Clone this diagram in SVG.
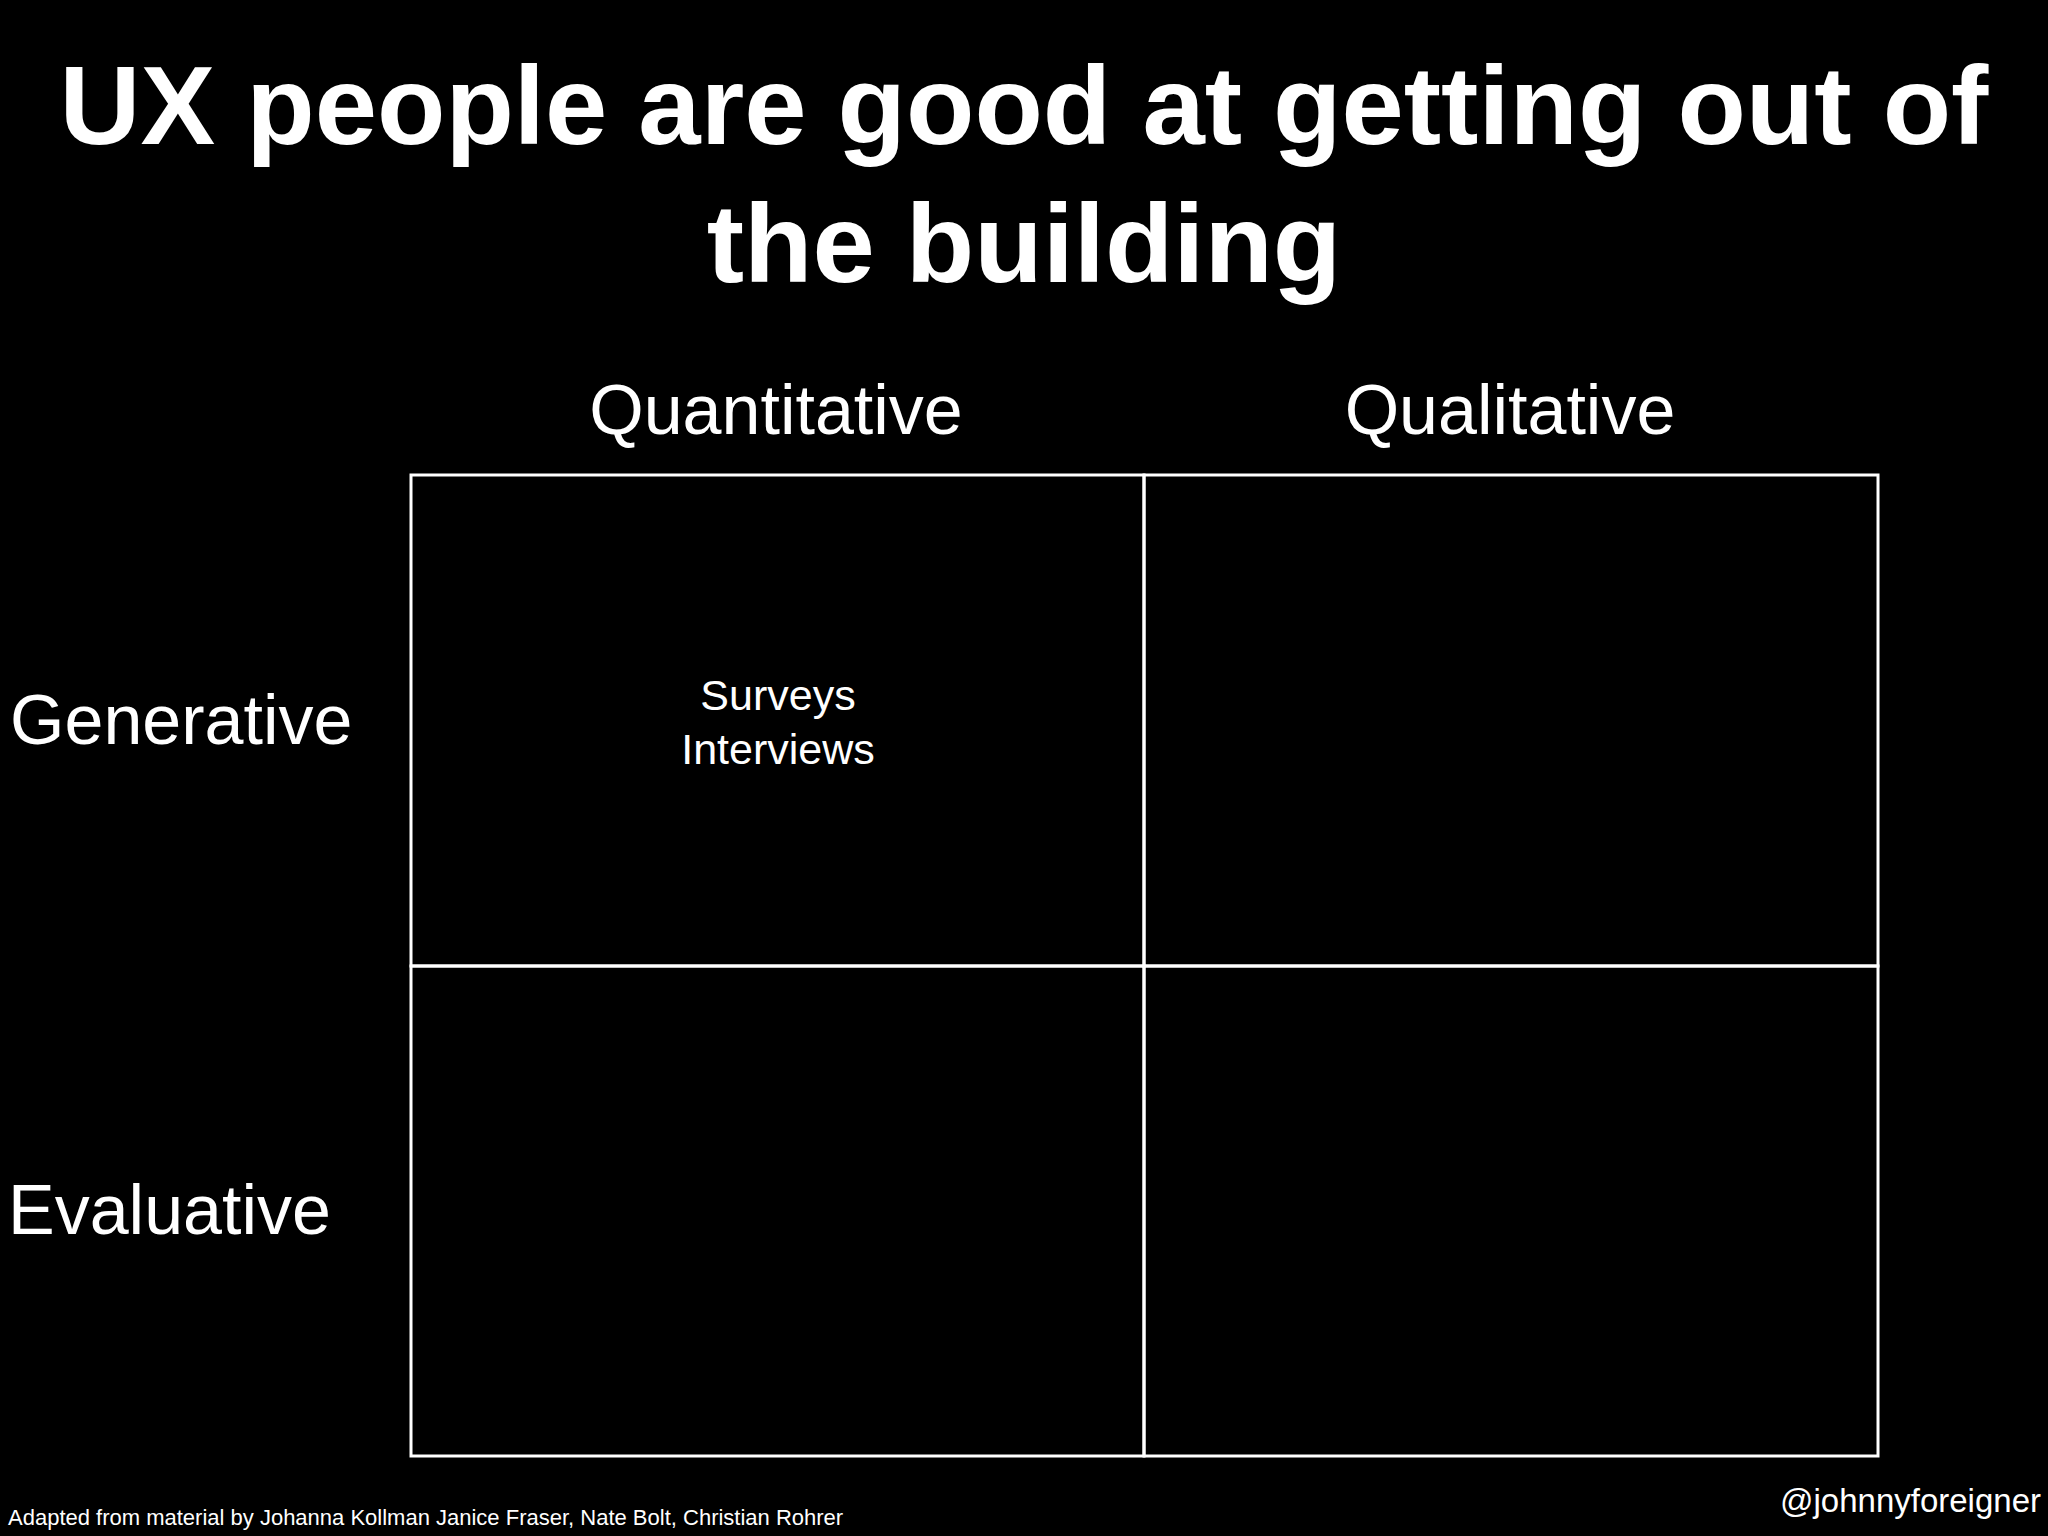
<svg xmlns="http://www.w3.org/2000/svg" width="2048" height="1536" viewBox="0 0 2048 1536">
<style>
text{font-family:"Liberation Sans",Arial,sans-serif;fill:#fff}
.t{font-size:112px;font-weight:bold;text-anchor:middle}
.h{font-size:70px}
.c{font-size:43px;text-anchor:middle}
.cell{fill:none;stroke:#fff;stroke-width:3}
</style>
<rect width="2048" height="1536" fill="#000"/>
<g id="title"><text class="t" x="1024" y="144">UX people are good at getting out of</text><text class="t" x="1024" y="282">the building</text></g>
<g id="col-quant"><text class="h" x="776" y="434" text-anchor="middle">Quantitative</text></g>
<g id="col-qual"><text class="h" x="1510" y="434" text-anchor="middle">Qualitative</text></g>
<g id="row-gen"><text class="h" x="10" y="744">Generative</text></g>
<g id="row-eval"><text class="h" x="8" y="1234">Evaluative</text></g>
<g id="cell-gen-quant"><rect class="cell" x="411" y="475" width="733" height="491"/><text class="c" x="778" y="710">Surveys</text><text class="c" x="778" y="764">Interviews</text></g>
<g id="cell-gen-qual"><rect class="cell" x="1144" y="475" width="734" height="491"/></g>
<g id="cell-eval-quant"><rect class="cell" x="411" y="966" width="733" height="490"/></g>
<g id="cell-eval-qual"><rect class="cell" x="1144" y="966" width="734" height="490"/></g>
<g id="connectors"/>
<g id="footer"><text x="8" y="1525" font-size="22">Adapted from material by Johanna Kollman Janice Fraser, Nate Bolt, Christian Rohrer</text><text x="2041" y="1512" font-size="33" text-anchor="end">@johnnyforeigner</text></g>
</svg>
